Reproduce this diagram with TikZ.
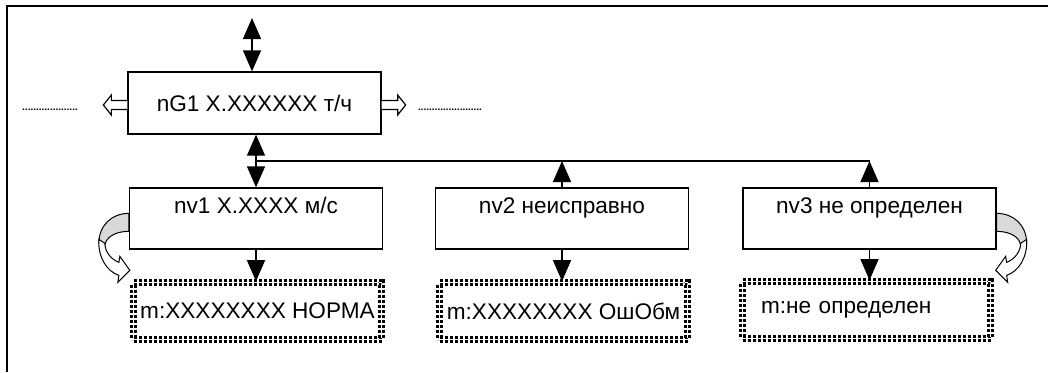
\documentclass[tikz,border=0pt]{standalone}
\usepackage{fontspec}
\setmainfont{Liberation Sans}
\usetikzlibrary{arrows.meta,positioning}

% curved side arrow, drawn at a box corner
\newcommand{\bendarrow}{%
  \filldraw[fill=gray!30, line width=1pt] (0,26) .. controls (-17,26) and (-30,38) .. (-30,56) -- (-24,58) .. controls (-23,50) and (-14,44) .. (0,44) -- cycle;
  \filldraw[fill=white, line width=1pt] (-30,52) .. controls (-31,70) and (-22,84) .. (-10,88) -- (-11,95) -- (1,83) -- (-9,69) -- (-10,75) .. controls (-18,72) and (-24,64) .. (-24,56) -- cycle;}
% hollow side arrow, drawn at a box edge
\newcommand{\sidearrow}{%
  \filldraw[fill=white, line width=1.2pt] (0,-2.5) -- (-16,-2.5) -- (-16,-8) -- (-24,2) -- (-16,12) -- (-16,6.5) -- (0,6.5);}

\begin{document}
\begin{tikzpicture}[x=1pt, y=-1pt,
  every node/.style={font=\fontsize{22.6}{27}\selectfont},
  valbox/.style={draw, line width=1.3pt, minimum width=253pt, minimum height=62pt, inner sep=0pt},
  topbox/.style={valbox, text height=25pt, text depth=36pt, minimum height=61pt},
  dotbox/.style={draw, line width=2.6pt, double, double distance=1.6pt, dash pattern=on 3pt off 2pt, minimum width=248pt, minimum height=57pt, inner sep=0pt},
  dblarrow/.style={line width=1.3pt, {Triangle[length=21pt,width=18pt]}-{Triangle[length=21pt,width=18pt]}},
  onearrow/.style={line width=1.3pt, -{Triangle[length=21pt,width=18pt]}},
  dotline/.style={font=\fontsize{10}{12}\selectfont\bfseries, anchor=base, inner sep=0pt}]
\useasboundingbox (0,0) rectangle (1048,372);
\draw[line width=2pt] (7,372) -- (7,6) -- (1048,6);

\node[valbox] (g1) at (254.5,103) {nG1 X.XXXXXX т/ч};
\node[topbox] (v1) at (256,218.5) {nv1 X.XXXX м/с};
\node[topbox] (v2) at (562,218.5) {nv2 неисправно};
\node[topbox] (v3) at (869.5,218.5) {nv3 не определен};
\node[dotbox] (m1) at (257.5,311) {m:XXXXXXXX НОРМА};
\node[dotbox] (m2) at (563.5,311) {m:XXXXXXXX ОшОбм};
\node[dotbox, text width=211pt, align=left] (m3) at (866.5,310) {m:не определен};

% side exits of nG1
\begin{scope}[shift={(g1.west)}] \sidearrow \end{scope}
\begin{scope}[shift={(g1.east)}, xscale=-1] \sidearrow \end{scope}
\node[dotline] (dl) at (50,110) {....................};
\node[dotline] (dr) at (450,110) {.......................};

\coordinate (gin) at (252,18);
\draw[dblarrow] (gin) -- (gin |- g1.north);
\draw[dblarrow] (v1.north |- g1.south) -- (v1.north);
\coordinate (bus) at (256,161);
\draw[line width=1.3pt] (bus) -- (bus -| v3.north);
\draw[onearrow] (v2.north) -- (v2.north |- bus);
\draw[onearrow] (v3.north) -- (v3.north |- bus);
\foreach \i in {1,2,3}
  \draw[onearrow] (v\i.south) -- (v\i.south |- m\i.north);

\begin{scope}[shift={(v1.north west)}] \bendarrow \end{scope}
\begin{scope}[shift={(v3.north east)}, xscale=-1] \bendarrow \end{scope}
\end{tikzpicture}
\end{document}
